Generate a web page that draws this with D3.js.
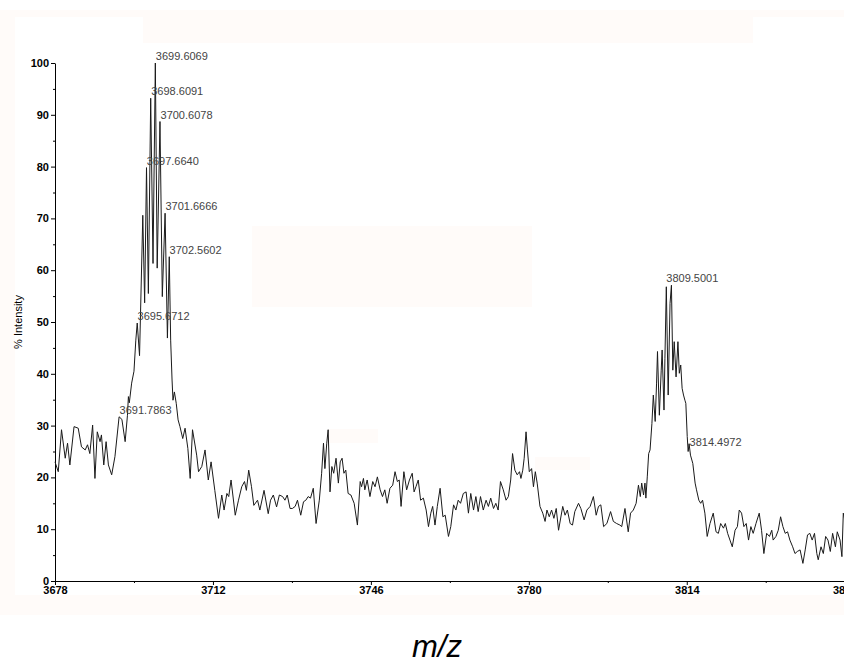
<!DOCTYPE html>
<html>
<head>
<meta charset="utf-8">
<script src="https://cdn.jsdelivr.net/npm/d3@7"></script>
<style>
  html, body { margin: 0; padding: 0; background: #fff; }
  svg { display: block; }
</style>
</head>
<body>
<div id="chart"></div>
<script>
// MS spectrum, % intensity vs m/z
const xTicks = [3678, 3712, 3746, 3780, 3814, 3848];
const yTicks = [0, 10, 20, 30, 40, 50, 60, 70, 80, 90, 100];

// [m/z, % intensity]
const spectrum = [
  [3678.0,23.0],[3678.7,21.1],[3679.4,29.2],[3680.2,23.7],[3680.7,26.6],[3681.2,22.4],[3682.1,29.8],[3683.0,29.5],
  [3683.7,25.9],[3684.5,25.3],[3685.0,26.3],[3685.5,24.6],[3686.1,30.1],[3686.6,19.8],[3687.1,28.8],[3687.7,26.9],
  [3688.0,28.2],[3688.5,22.4],[3689.0,26.9],[3689.5,22.4],[3690.2,20.5],[3690.9,24.0],[3691.8,31.7],[3692.4,31.2],
  [3693.1,26.9],[3693.6,32.0],[3693.8,35.6],[3694.0,34.4],[3694.5,38.2],[3695.0,40.5],[3695.4,46.5],[3695.7,49.8],
  [3696.2,43.5],[3696.9,70.6],[3697.3,53.7],[3697.7,79.8],[3698.1,55.5],[3698.6,93.2],[3699.1,61.3],[3699.6,100],
  [3700.0,60.4],[3700.6,88.7],[3701.1,54.9],[3701.7,71.0],[3702.2,46.9],[3702.6,62.6],[3702.9,46.5],[3703.2,38.8],
  [3703.4,34.9],[3703.7,36.5],[3704.1,34.3],[3704.5,31.1],[3704.9,29.8],[3705.5,27.5],[3706.0,29.5],[3706.6,25.6],
  [3707.1,19.8],[3707.6,29.2],[3708.5,24.3],[3708.9,21.1],[3709.6,22.1],[3710.3,25.3],[3711.0,19.5],[3711.6,23.0],
  [3712.4,17.5],[3713.2,12.1],[3713.9,16.6],[3714.4,13.7],[3715.0,16.9],[3715.4,16.3],[3715.9,19.5],[3716.8,12.7],
  [3717.5,15.6],[3718.2,18.2],[3718.8,19.2],[3719.2,17.5],[3719.7,21.4],[3720.3,18.2],[3720.8,14.6],[3721.6,15.6],
  [3722.1,13.7],[3723.0,17.5],[3723.9,13.0],[3724.4,15.6],[3725.0,16.6],[3725.7,14.3],[3726.3,16.6],[3727.0,16.3],
  [3727.5,15.6],[3728.0,16.6],[3728.6,14.0],[3729.1,14.0],[3729.7,14.4],[3730.2,15.6],[3730.9,12.7],[3731.5,15.3],
  [3732.0,15.6],[3732.5,16.3],[3733.0,16.0],[3733.6,17.9],[3734.2,11.1],[3734.9,15.6],[3735.4,20.8],[3735.8,26.6],
  [3736.1,21.7],[3736.5,26.6],[3736.8,29.2],[3737.2,17.2],[3737.6,22.1],[3738.0,20.8],[3738.5,23.7],[3739.0,18.9],
  [3739.4,23.0],[3739.8,23.7],[3740.2,20.8],[3740.6,21.4],[3741.1,16.9],[3741.7,16.6],[3742.4,15.0],[3743.1,10.8],
  [3743.7,19.2],[3744.0,18.2],[3744.4,19.8],[3744.7,17.6],[3745.2,19.5],[3745.8,16.3],[3746.4,19.2],[3746.9,18.2],
  [3747.4,20.1],[3748.0,17.6],[3748.5,16.3],[3749.0,17.6],[3749.5,15.0],[3750.1,17.9],[3750.7,18.5],[3751.2,21.1],
  [3751.7,19.2],[3752.1,19.5],[3752.5,14.4],[3753.1,21.1],[3753.7,17.6],[3754.3,19.5],[3754.9,20.8],[3755.3,17.2],
  [3755.7,18.2],[3756.2,19.5],[3756.7,15.6],[3757.3,16.0],[3757.9,13.7],[3758.4,10.5],[3758.9,13.1],[3759.3,14.4],
  [3759.8,10.8],[3760.3,14.4],[3760.9,17.9],[3761.5,12.4],[3762.0,12.7],[3762.7,8.6],[3763.2,10.5],[3763.8,14.7],
  [3764.3,13.7],[3764.8,15.6],[3765.3,15.0],[3765.9,16.9],[3766.5,17.2],[3767.0,13.1],[3767.5,16.9],[3768.1,13.7],
  [3768.6,16.3],[3769.1,13.4],[3769.6,16.3],[3770.2,13.7],[3770.8,15.6],[3771.3,14.4],[3771.8,16.0],[3772.4,14.0],
  [3772.9,15.0],[3773.4,13.7],[3773.9,19.2],[3774.5,17.6],[3775.1,15.6],[3775.6,16.3],[3776.1,19.5],[3776.5,24.6],
  [3777.0,21.4],[3777.5,20.5],[3778.0,21.1],[3778.3,19.8],[3778.7,21.4],[3779.0,23.7],[3779.4,28.8],[3779.7,25.3],
  [3780.1,21.1],[3780.6,21.7],[3781.0,18.2],[3781.4,21.1],[3781.8,18.9],[3782.4,14.4],[3783.0,13.1],[3783.5,11.5],
  [3783.9,13.7],[3784.4,12.4],[3784.9,13.7],[3785.4,12.1],[3785.9,14.0],[3786.4,9.8],[3787.3,14.4],[3787.8,12.7],
  [3788.3,13.7],[3788.9,11.1],[3789.4,10.8],[3789.9,13.4],[3790.7,15.0],[3791.2,14.0],[3791.9,11.8],[3792.5,13.7],
  [3793.2,14.4],[3793.9,16.3],[3794.5,12.7],[3795.0,14.4],[3795.5,14.7],[3796.1,10.5],[3796.8,11.1],[3797.6,13.4],
  [3798.2,11.5],[3798.9,11.1],[3799.6,10.8],[3800.0,10.5],[3800.7,14.0],[3801.4,9.5],[3801.9,13.1],[3802.5,13.7],
  [3803.1,15.0],[3803.6,18.5],[3804.0,16.3],[3804.3,18.9],[3804.7,16.6],[3805.0,18.9],[3805.2,16.0],[3805.5,20.1],
  [3805.8,24.6],[3806.1,25.3],[3806.5,30.4],[3806.8,35.9],[3807.2,30.8],[3807.5,38.2],[3807.7,44.3],[3808.1,32.0],
  [3808.5,40.7],[3808.7,44.6],[3809.1,33.0],[3809.3,43.0],[3809.6,56.8],[3810.0,35.9],[3810.4,53.6],[3810.7,57.1],
  [3811.0,40.7],[3811.3,46.2],[3811.7,39.4],[3812.1,46.2],[3812.4,40.1],[3812.7,41.7],[3813.0,37.2],[3813.3,35.9],
  [3813.6,34.9],[3813.8,34.3],[3814.1,27.9],[3814.3,25.0],[3814.5,26.5],[3814.8,24.3],[3815.3,22.7],[3815.8,18.9],
  [3816.1,17.6],[3816.6,15.6],[3817.0,15.0],[3817.4,15.6],[3817.9,13.1],[3818.4,8.6],[3819.0,11.1],[3819.7,13.1],
  [3820.3,9.5],[3820.8,9.2],[3821.3,11.1],[3821.9,10.2],[3822.3,11.1],[3822.8,9.2],[3823.3,7.9],[3823.8,6.6],
  [3824.4,9.8],[3824.9,10.5],[3825.3,13.7],[3825.8,13.1],[3826.3,10.5],[3826.8,11.1],[3827.3,7.9],[3827.8,10.5],
  [3828.3,9.2],[3828.9,11.1],[3829.6,13.1],[3830.1,9.8],[3830.6,5.3],[3831.2,9.2],[3831.8,8.6],[3832.3,9.8],
  [3832.6,7.9],[3833.2,8.6],[3833.7,9.8],[3834.2,12.4],[3834.7,10.5],[3835.2,9.2],[3835.7,9.5],[3836.2,7.9],
  [3836.8,6.6],[3837.3,5.3],[3837.8,5.7],[3838.4,6.0],[3839.0,3.4],[3839.5,6.0],[3840.0,8.9],[3840.5,9.2],
  [3841.0,7.9],[3841.5,9.2],[3842.0,5.3],[3842.3,4.1],[3842.9,6.6],[3843.4,5.3],[3843.9,8.6],[3844.4,7.9],
  [3844.9,5.7],[3845.4,9.2],[3846.0,6.6],[3846.4,9.5],[3847.0,7.9],[3847.4,4.7],[3847.7,13.1],[3848.2,11.0]
];

// annotated peaks
const peakLabels = ['3699.6069', '3698.6091', '3700.6078', '3697.6640', '3701.6666',
                    '3702.5602', '3695.6712', '3691.7863', '3809.5001', '3814.4972'];
const peakHeights = [100, 93.2, 88.7, 79.8, 71.0, 62.6, 49.8, 31.7, 57.1, 25.5];

const width = 844;
const height = 664;
const FONT = '"Liberation Sans", Arial, Helvetica, sans-serif';

const svg = d3.select('#chart')
  .append('svg')
  .attr('width', width)
  .attr('height', height)
  .style('font-family', FONT);

// very faint pinkish frame + leftover boxes from the original export
const shade = '#fffbf9';
svg.append('rect').attr('x', 0).attr('y', 10).attr('width', width).attr('height', 605).attr('fill', shade);
svg.append('rect').attr('x', 15).attr('y', 17).attr('width', width - 15).attr('height', 578).attr('fill', '#fff');
[[143, 17, 610, 26], [252, 226, 280, 81], [328, 429, 50, 14], [535, 457, 55, 13]].forEach(b => {
  svg.append('rect').attr('x', b[0]).attr('y', b[1]).attr('width', b[2]).attr('height', b[3]).attr('fill', shade);
});

const x = d3.scaleLinear().domain([3678, 3848]).range([55, 844.7]);
const y = d3.scaleLinear().domain([0, 100]).range([581, 63]);

// y axis
const yAxis = svg.append('g').attr('transform', 'translate(55,0)');
yAxis.call(d3.axisLeft(y).tickValues(yTicks).tickSize(4).tickSizeOuter(0).tickPadding(2));
yAxis.append('g').call(d3.axisLeft(y).tickValues(d3.range(5, 100, 10)).tickSize(2).tickFormat(''))
  .select('.domain').remove();
yAxis.selectAll('text')
  .attr('fill', '#000')
  .style('font-size', '11px')
  .style('font-weight', 'bold')
  .style('font-family', FONT);

// x axis
const xAxis = svg.append('g').attr('transform', 'translate(0,581)');
xAxis.call(d3.axisBottom(x).tickValues(xTicks).tickSize(4).tickSizeOuter(0).tickPadding(1).tickFormat(d3.format('d')));
xAxis.append('g').call(d3.axisBottom(x).tickValues(xTicks.map(t => t + 17)).tickSize(2).tickFormat(''))
  .select('.domain').remove();
xAxis.selectAll('text')
  .attr('fill', '#000')
  .style('font-size', '11px')
  .style('font-weight', 'bold')
  .style('font-family', FONT);
svg.selectAll('.domain, .tick line').attr('stroke', '#000');

// trace
const line = d3.line()
  .x(d => x(d[0]))
  .y(d => y(d[1]));

svg.append('path')
  .datum(spectrum)
  .attr('fill', 'none')
  .attr('stroke', '#1a1a1a')
  .attr('stroke-width', 1)
  .attr('stroke-linejoin', 'round')
  .attr('d', line);

// peak annotations
svg.append('g')
  .selectAll('text')
  .data(peakLabels)
  .join('text')
  .attr('x', d => x(+d) + 0.5)
  .attr('y', (d, i) => y(peakHeights[i]) - 3)
  .attr('fill', '#444')
  .style('font-size', '11px')
  .text(d => d);

// axis titles
svg.append('text')
  .attr('transform', 'translate(22,322) rotate(-90)')
  .attr('text-anchor', 'middle')
  .attr('fill', '#000')
  .style('font-size', '11px')
  .text('% Intensity');

svg.append('text')
  .attr('x', 437)
  .attr('y', 657)
  .attr('text-anchor', 'middle')
  .attr('fill', '#000')
  .style('font-size', '31px')
  .style('font-style', 'italic')
  .text('m/z');
</script>
</body>
</html>
